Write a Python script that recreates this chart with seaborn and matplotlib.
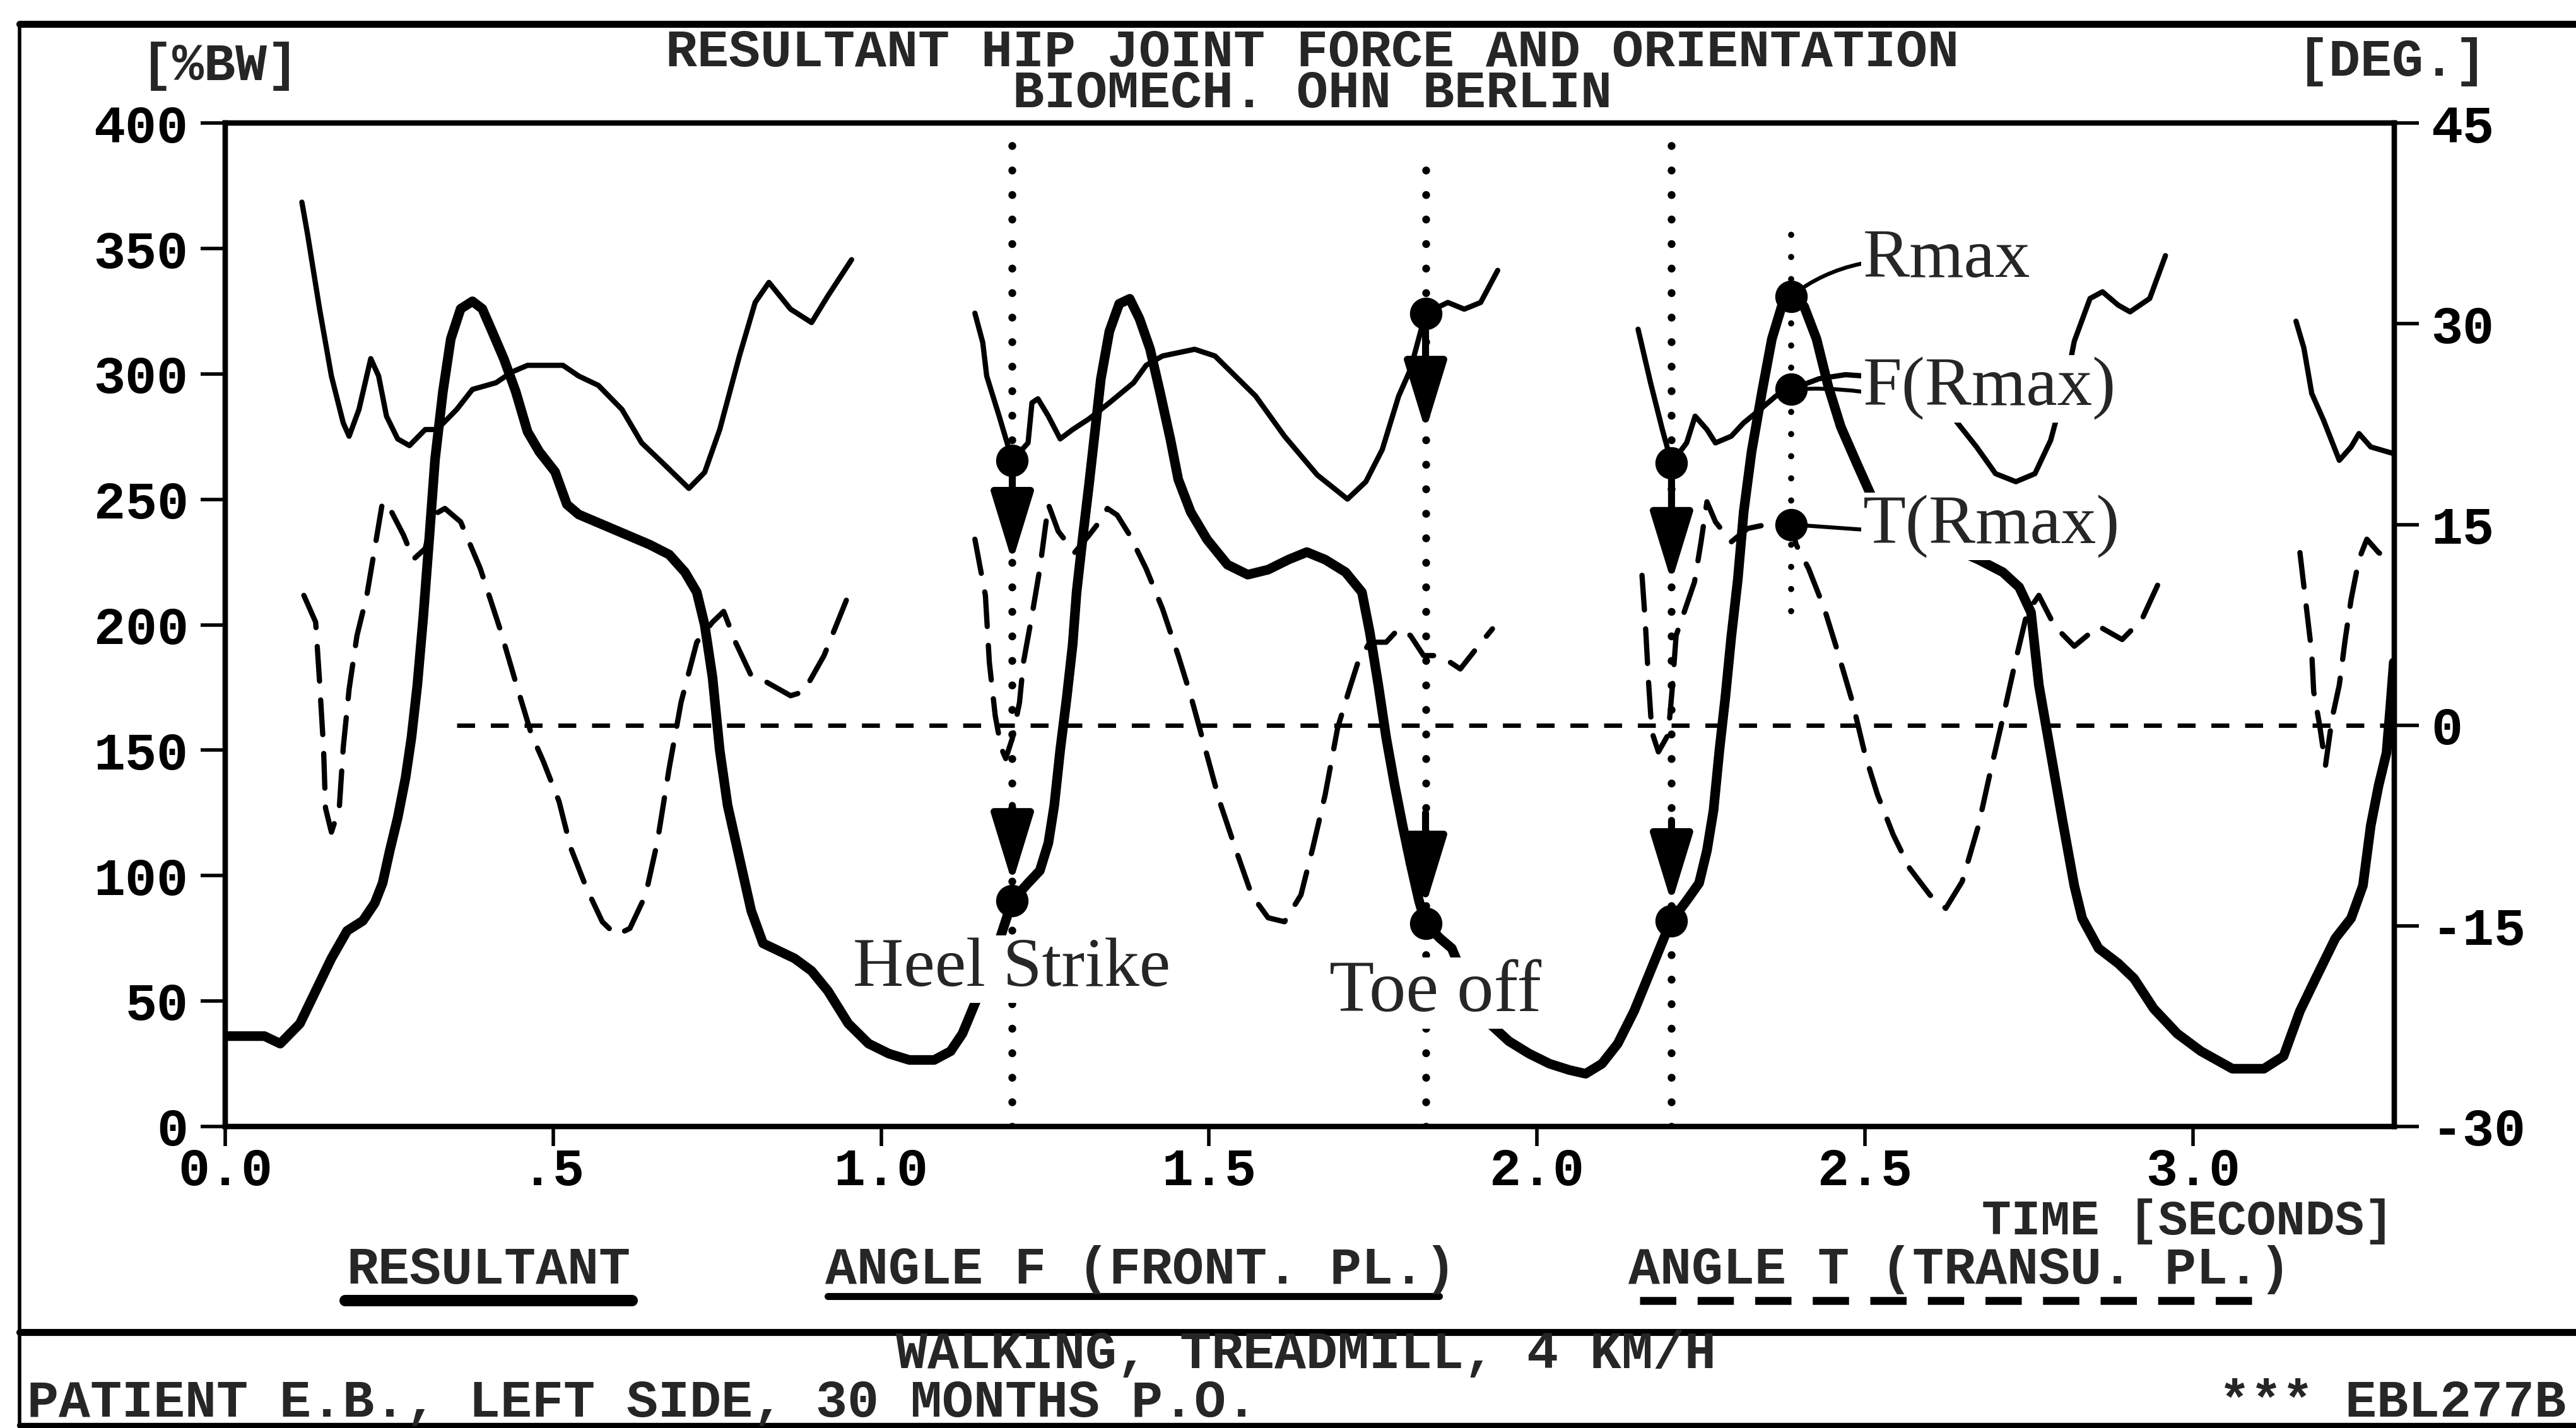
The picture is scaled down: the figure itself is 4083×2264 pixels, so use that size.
import numpy as np
import pandas as pd
import matplotlib
matplotlib.use("Agg")
import matplotlib.pyplot as plt
from matplotlib.lines import Line2D
import seaborn as sns

# ---------------- data ----------------
# Resultant hip joint force [%BW] vs time [s]
res_t = [0.000, 0.060, 0.084, 0.114, 0.138, 0.162, 0.186, 0.210, 0.228, 0.240,
         0.251, 0.263, 0.275, 0.284, 0.293, 0.302, 0.311, 0.320, 0.332, 0.344,
         0.359, 0.377, 0.392, 0.407, 0.425, 0.443, 0.461, 0.479, 0.503, 0.521,
         0.539, 0.575, 0.611, 0.647, 0.677, 0.701, 0.719, 0.731, 0.743, 0.754,
         0.766, 0.784, 0.802, 0.820, 0.844, 0.868, 0.894, 0.919, 0.950, 0.981,
         1.012, 1.043, 1.081, 1.106, 1.124, 1.143, 1.170, 1.200, 1.224, 1.242,
         1.255, 1.264, 1.273, 1.283, 1.292, 1.298, 1.307, 1.317, 1.326, 1.335,
         1.348, 1.363, 1.379, 1.394, 1.410, 1.425, 1.441, 1.453, 1.472, 1.497,
         1.528, 1.559, 1.590, 1.621, 1.649, 1.677, 1.708, 1.733, 1.745, 1.758,
         1.770, 1.783, 1.795, 1.807, 1.820, 1.830, 1.852, 1.870, 1.900, 1.932,
         1.957, 1.988, 2.019, 2.049, 2.074, 2.099, 2.123, 2.148, 2.173, 2.198,
         2.205, 2.228, 2.247, 2.259, 2.269, 2.278, 2.287, 2.296, 2.306, 2.315,
         2.327, 2.343, 2.358, 2.373, 2.387, 2.407, 2.426, 2.444, 2.463, 2.488,
         2.512, 2.549, 2.593, 2.630, 2.673, 2.710, 2.735, 2.753, 2.765, 2.783,
         2.801, 2.819, 2.831, 2.856, 2.886, 2.910, 2.940, 2.976, 3.012, 3.060,
         3.108, 3.138, 3.163, 3.187, 3.217, 3.241, 3.259, 3.271, 3.283, 3.295,
         3.301, 3.306]
res_val = [36, 36, 33, 41, 54, 67, 78, 82, 89, 97,
           110, 123, 139, 155, 176, 203, 234, 266, 293, 314,
           326, 329, 326, 317, 306, 293, 277, 269, 261, 248,
           244, 240, 236, 232, 228, 221, 213, 200, 179, 150,
           128, 107, 86, 73, 70, 67, 62, 54, 41, 33,
           29, 26.5, 26.5, 30, 37, 49, 66, 90, 97, 102,
           113, 128, 150, 171, 192, 213, 234, 256, 277, 298,
           317, 328, 330, 322, 310, 293, 274, 258, 245, 234,
           224, 220, 222, 226, 229, 226, 221, 213, 197, 176,
           155, 136, 120, 105, 90, 81, 75, 71, 52, 40,
           34, 29, 25, 22.5, 21, 25, 33, 46, 62, 78,
           82, 90, 97, 110, 126, 150, 171, 195, 218, 245,
           269, 293, 314, 327, 331, 327, 314, 295, 279, 264,
           250, 241, 236, 231, 226, 221, 215, 205, 176, 149,
           122, 96, 83, 71, 65, 59, 47, 37, 30, 23,
           23, 28, 46, 59, 75, 83, 96, 120, 136, 149,
           168, 185]

# Angle F (frontal plane) [deg], four stance segments
angF_t1 = [0.117, 0.126, 0.144, 0.162, 0.180, 0.189, 0.204, 0.222, 0.234, 0.246,
           0.263, 0.281, 0.305, 0.323, 0.353, 0.377, 0.413, 0.437, 0.461, 0.515,
           0.539, 0.569, 0.605, 0.635, 0.665, 0.707, 0.731, 0.754, 0.784, 0.808,
           0.829, 0.862, 0.894, 0.919, 0.955]
angF_1 = [39.1, 36.6, 31.1, 26.1, 22.6, 21.6, 23.6, 27.4, 26.1, 23.1,
          21.4, 20.9, 22.1, 22.1, 23.6, 25.1, 25.6, 26.4, 26.9, 26.9,
          26.1, 25.4, 23.6, 21.1, 19.7, 17.7, 18.9, 22.1, 27.6, 31.6,
          33.1, 31.1, 30.1, 32.1, 34.8]
angF_t2 = [1.143, 1.155, 1.161, 1.180, 1.200, 1.224, 1.230, 1.239, 1.255, 1.273,
           1.292, 1.317, 1.348, 1.385, 1.404, 1.429, 1.478, 1.509, 1.540, 1.571,
           1.615, 1.665, 1.711, 1.739, 1.764, 1.789, 1.807, 1.830, 1.864, 1.889,
           1.914, 1.940]
angF_2 = [30.8, 28.6, 26.1, 23.1, 19.8, 21.1, 24.1, 24.4, 23.1, 21.4,
          22.1, 22.9, 24.1, 25.6, 26.9, 27.6, 28.1, 27.6, 26.1, 24.6,
          21.6, 18.7, 16.9, 18.2, 20.6, 24.6, 26.6, 30.8, 31.6, 31.1,
          31.6, 34.0]
angF_t3 = [2.154, 2.173, 2.191, 2.205, 2.228, 2.241, 2.259, 2.272, 2.296, 2.315,
           2.340, 2.364, 2.387, 2.430, 2.470, 2.530, 2.590, 2.636, 2.670, 2.699,
           2.730, 2.759, 2.783, 2.807, 2.819, 2.843, 2.862, 2.886, 2.904, 2.934,
           2.958]
angF_3 = [29.6, 25.6, 22.1, 19.6, 21.1, 23.1, 22.1, 21.1, 21.6, 22.6,
          23.6, 24.6, 25.1, 25.9, 26.2, 26.0, 24.8, 22.9, 20.8, 18.8,
          18.2, 18.8, 21.3, 25.7, 28.7, 31.9, 32.4, 31.4, 30.9, 31.9,
          35.1]
angF_t4 = [3.157, 3.169, 3.181, 3.199, 3.223, 3.241, 3.253, 3.271, 3.306]
angF_4 = [30.2, 28.2, 24.8, 22.8, 19.8, 20.8, 21.8, 20.8, 20.3]

# Angle T (transverse plane) [deg], four stance segments
angT_t1 = [0.120, 0.138, 0.144, 0.150, 0.153, 0.162, 0.174, 0.180, 0.189, 0.201,
           0.216, 0.228, 0.240, 0.251, 0.272, 0.287, 0.305, 0.317, 0.335, 0.359,
           0.389, 0.419, 0.443, 0.467, 0.485, 0.509, 0.527, 0.551, 0.575, 0.596,
           0.617, 0.641, 0.659, 0.677, 0.695, 0.719, 0.743, 0.760, 0.778, 0.802,
           0.826, 0.862, 0.882, 0.913, 0.950]
angT_1 = [9.7, 7.7, 3.2, -1.7, -6.2, -8.0, -6.2, -1.7, 2.7, 6.7,
          9.7, 13.2, 16.7, 16.2, 14.2, 12.4, 13.2, 15.7, 16.2, 15.2,
          11.7, 7.2, 3.2, -0.7, -2.7, -5.7, -9.2, -12.2, -14.7, -15.7,
          -15.2, -12.7, -8.7, -3.2, 1.7, 6.2, 7.7, 8.5, 6.2, 3.7,
          3.2, 2.2, 2.5, 5.2, 9.7]
angT_t2 = [1.143, 1.159, 1.165, 1.174, 1.183, 1.190, 1.200, 1.211, 1.217, 1.230,
           1.242, 1.255, 1.270, 1.295, 1.317, 1.336, 1.345, 1.360, 1.379, 1.404,
           1.429, 1.453, 1.472, 1.491, 1.516, 1.540, 1.565, 1.590, 1.615, 1.640,
           1.658, 1.677, 1.696, 1.714, 1.727, 1.745, 1.770, 1.789, 1.807, 1.827,
           1.852, 1.883, 1.907, 1.932]
angT_2 = [13.9, 9.7, 4.7, 0.7, -1.7, -2.5, -1.0, 1.7, 4.7, 8.2,
          11.7, 16.5, 14.5, 12.9, 14.2, 15.4, 16.2, 15.7, 14.2, 11.7,
          8.7, 5.2, 2.2, -1.2, -5.7, -9.2, -12.7, -14.4, -14.7, -12.7,
          -9.2, -5.2, -0.2, 2.7, 4.7, 6.2, 6.2, 7.2, 6.7, 5.2,
          5.2, 4.2, 5.7, 7.2]
angT_t3 = [2.160, 2.165, 2.170, 2.175, 2.185, 2.200, 2.206, 2.212, 2.240, 2.250,
           2.259, 2.272, 2.296, 2.321, 2.350, 2.387, 2.395, 2.414, 2.438, 2.457,
           2.481, 2.500, 2.519, 2.543, 2.568, 2.599, 2.623, 2.648, 2.673, 2.691,
           2.710, 2.728, 2.747, 2.765, 2.789, 2.819, 2.856, 2.892, 2.922, 2.952]
angT_3 = [11.2, 7.7, 3.2, -0.5, -2.0, -0.7, 2.7, 6.7, 10.7, 13.7,
          16.7, 15.2, 13.7, 14.7, 15.0, 15.0, 13.5, 11.7, 8.7, 5.7,
          1.7, -2.2, -5.2, -8.2, -10.7, -12.7, -13.7, -11.7, -7.5, -3.5,
          0.5, 4.5, 8.4, 9.7, 7.4, 5.9, 7.4, 6.4, 7.9, 11.1]
angT_t4 = [3.163, 3.169, 3.181, 3.184, 3.193, 3.202, 3.212, 3.223, 3.232, 3.241,
           3.253, 3.265, 3.283, 3.306]
angT_4 = [12.9, 10.4, 5.4, 2.5, 0.0, -3.0, 0.5, 3.0, 6.4, 9.4,
          12.4, 13.9, 12.9, 12.1]

# gait events (heel strike, toe off, heel strike)
event_t = [1.200, 1.830, 2.205]
event_F = [19.8, 30.8, 19.6]          # deg
event_R = [90, 81, 82]                # %BW
arrow_F_tip = [12.2, 22.0, 10.7]      # deg
arrow_R_start = [128, 125, 122]       # %BW
arrow_R_tip = [97, 88, 89]            # %BW
event_vline_top = [400, 387, 393]     # %BW

# maximum resultant
rmax_t = 2.387
rmax_R = 331
rmax_F = 25.1
rmax_T = 15.0
rmax_vline = [8.5, 37.0]              # deg
zero_line_start = 0.353

x_ticks = [0.0, 0.5, 1.0, 1.5, 2.0, 2.5, 3.0]
x_ticklabels = ["0.0", ".5", "1.0", "1.5", "2.0", "2.5", "3.0"]
y_ticks = [0, 50, 100, 150, 200, 250, 300, 350, 400]
y2_ticks = [-30, -15, 0, 15, 30, 45]
y2_ticklabels = ["-30", "-15", "0", "15", "30", "45"]

# ---------------- style ----------------
sns.set_theme(style="white")
plt.rcParams["font.family"] = ["Liberation Mono", "DejaVu Sans Mono"]
plt.rcParams["font.weight"] = "bold"
plt.rcParams["axes.edgecolor"] = "black"
plt.rcParams["xtick.color"] = "black"
plt.rcParams["ytick.color"] = "black"
FS = 60
SERIF = dict(family="Liberation Serif", weight="normal", size=80)

fig = plt.figure(figsize=(40.83, 22.64), dpi=100)
fig.patch.set_facecolor("white")
ax = fig.add_axes([0.0874, 0.2112, 0.8421, 0.7025])
ax2 = ax.twinx()

# ---------------- series ----------------
res_df = pd.DataFrame({"t": res_t, "R": res_val})
sns.lineplot(data=res_df, x="t", y="R", ax=ax, color="black", linewidth=11,
             estimator=None, sort=False, solid_joinstyle="round")


def seg_frame(ts, vs):
    return pd.concat([pd.DataFrame({"t": t, "deg": v, "seg": i})
                      for i, (t, v) in enumerate(zip(ts, vs))], ignore_index=True)


f_df = seg_frame([angF_t1, angF_t2, angF_t3, angF_t4], [angF_1, angF_2, angF_3, angF_4])
t_df = seg_frame([angT_t1, angT_t2, angT_t3, angT_t4], [angT_1, angT_2, angT_3, angT_4])
sns.lineplot(data=f_df, x="t", y="deg", units="seg", estimator=None, sort=False,
             ax=ax2, color="black", linewidth=6, legend=False, solid_joinstyle="round")
sns.lineplot(data=t_df, x="t", y="deg", units="seg", estimator=None, sort=False,
             ax=ax2, color="black", linewidth=6, legend=False,
             linestyle=(0, (6.6, 3.6)), dash_capstyle="round")

# zero line (right axis)
ax2.plot([zero_line_start, 3.307], [0, 0], color="black", lw=5,
         linestyle=(0, (4.1, 3.6)), zorder=1)

# event dotted verticals
for t, top in zip(event_t, event_vline_top):
    ax.plot([t, t], [0, top], color="black", lw=9, linestyle=(0, (0.01, 3.1)),
            dash_capstyle="round", zorder=1)
ax2.plot([rmax_t, rmax_t], rmax_vline, color="black", lw=7,
         linestyle=(0, (0.01, 3.6)), dash_capstyle="round", zorder=1)

# arrows
arrow_kw = dict(arrowstyle="-|>,head_length=0.85,head_width=0.26", lw=8,
                color="black", mutation_scale=80, shrinkA=0, shrinkB=0)
for t, f, tip in zip(event_t, event_F, arrow_F_tip):
    ax2.annotate("", xy=(t, tip), xytext=(t, f), arrowprops=arrow_kw, zorder=5)
for t, s, tip in zip(event_t, arrow_R_start, arrow_R_tip):
    ax.annotate("", xy=(t, tip), xytext=(t, s), arrowprops=arrow_kw, zorder=5)

# markers
ax.plot(event_t + [rmax_t], event_R + [rmax_R], "o", color="black", ms=36, zorder=6)
ax2.plot(event_t + [rmax_t, rmax_t], event_F + [rmax_F, rmax_T], "o",
         color="black", ms=36, zorder=6)

# annotations
box = dict(boxstyle="square,pad=0.03", fc="white", ec="none")
ax2.text(1.199, 56, "Heel Strike", transform=ax.transData, ha="center",
         va="baseline", bbox=box, zorder=10, **SERIF)
ax2.text(1.845, 46, "Toe off", transform=ax.transData, ha="center",
         va="baseline", bbox=box, zorder=10, **dict(SERIF, size=84))
conn = dict(arrowstyle="-", lw=4.5, color="black", shrinkA=0, shrinkB=0,
            relpos=(0, 0.45), connectionstyle="arc3,rad=0.12")
ax2.annotate("Rmax", xy=(rmax_t, rmax_R), xycoords=ax.transData,
             xytext=(2.497, 33.5), textcoords="data", ha="left", va="baseline",
             bbox=box, arrowprops=conn, zorder=10, **SERIF)
ax2.annotate("F(Rmax)", xy=(rmax_t, rmax_F), xytext=(2.497, 23.9),
             textcoords="data", ha="left", va="baseline", bbox=box,
             arrowprops=dict(conn, connectionstyle="arc3,rad=0.05"), zorder=10, **SERIF)
ax2.annotate("T(Rmax)", xy=(rmax_t, rmax_T), xytext=(2.497, 13.6),
             textcoords="data", ha="left", va="baseline", bbox=box,
             arrowprops=dict(conn, connectionstyle="arc3,rad=0.0"), zorder=10, **SERIF)

# ---------------- axes ----------------
ax.set_xlim(0, 3.307)
ax.set_ylim(0, 400)
ax2.set_ylim(-30, 45)
ax.set_xlabel("")
ax.set_ylabel("")
ax2.set_ylabel("")
ax.set_xticks(x_ticks)
ax.set_xticklabels(x_ticklabels)
ax.set_yticks(y_ticks)
ax2.set_yticks(y2_ticks)
ax2.set_yticklabels(y2_ticklabels)
ax.grid(False)
ax2.grid(False)
for a in (ax, ax2):
    for s in a.spines.values():
        s.set_visible(True)
        s.set_linewidth(6)
        s.set_color("black")
ax.tick_params(axis="y", direction="out", length=28, width=4, labelsize=FS, pad=14,
               left=True)
ax.tick_params(axis="x", direction="out", length=22, width=4, labelsize=FS, pad=1,
               bottom=True)
ax2.tick_params(axis="y", direction="out", length=28, width=4, labelsize=FS, pad=14,
                right=True)

# ---------------- figure texts ----------------
fig.text(0.5095, 0.9249,
         "RESULTANT HIP JOINT FORCE AND ORIENTATION\nBIOMECH. OHN BERLIN",
         ha="center", va="baseline", multialignment="center", linespacing=0.79,
         fontsize=FS, weight="bold")
fig.text(0.0855, 0.9438, "[%BW]", ha="center", va="baseline", fontsize=FS, weight="bold")
fig.text(0.9286, 0.9471, "[DEG.]", ha="center", va="baseline", fontsize=FS, weight="bold")
fig.text(0.9292, 0.1358, "TIME [SECONDS]", ha="right", va="baseline", fontsize=56,
         weight="bold")

legend_labels = ["RESULTANT", "ANGLE F (FRONT. PL.)", "ANGLE T (TRANSU. PL.)"]
legend_cx = [0.1897, 0.4429, 0.7608]
legend_x0 = [0.1339, 0.3214, 0.6365]
legend_x1 = [0.2455, 0.5587, 0.8801]
legend_y = [0.0892, 0.0922, 0.0892]
legend_lw = [13, 8, 9]
legend_ls = ["-", "-", (0, (4.6, 2.7))]
for lab, cx, x0, x1, ly, lw, ls in zip(legend_labels, legend_cx, legend_x0, legend_x1,
                                        legend_y, legend_lw, legend_ls):
    fig.text(cx, 0.1013, lab, ha="center", va="baseline", fontsize=FS, weight="bold")
    fig.add_artist(Line2D([x0, x1], [ly, ly], color="black", lw=lw, linestyle=ls,
                          transform=fig.transFigure))

fig.text(0.507, 0.0419, "WALKING, TREADMILL, 4 KM/H", ha="center", va="baseline",
         fontsize=FS, weight="bold")
fig.text(0.0105, 0.0080, "PATIENT E.B., LEFT SIDE, 30 MONTHS P.O.", ha="left",
         va="baseline", fontsize=FS, weight="bold")
fig.text(0.9962, 0.0080, "*** EBL277B", ha="right", va="baseline", fontsize=FS,
         weight="bold")

# outer frame
frame_lines = [([0.0077, 1.0], [0.9830, 0.9830], 8),
               ([0.0077, 0.0077], [0.0, 0.9830], 4),
               ([0.0077, 1.0], [0.0673, 0.0673], 8),
               ([0.0077, 1.0], [0.0018, 0.0018], 6)]
for xs, ys, lw in frame_lines:
    fig.add_artist(Line2D(xs, ys, color="black", lw=lw, transform=fig.transFigure))

fig.savefig("out.png", dpi=100, facecolor="white")
